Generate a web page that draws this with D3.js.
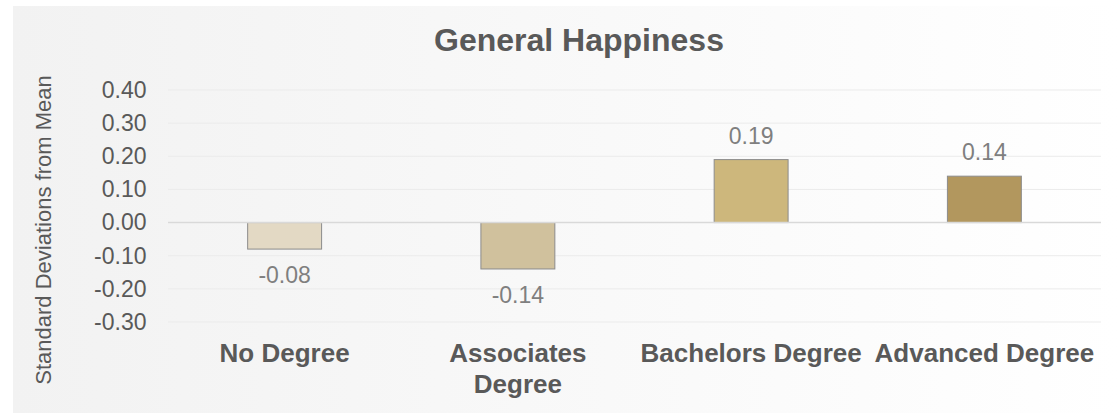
<!DOCTYPE html>
<html>
<head>
<meta charset="utf-8">
<script src="https://cdn.jsdelivr.net/npm/d3@7"></script>
<style>
  body { margin: 0; background: #fff; }
  text { font-family: "Liberation Sans", Arial, sans-serif; }
</style>
</head>
<body>
<svg id="chart" width="1119" height="415"></svg>
<script>
var categories = ["No Degree", "Associates Degree", "Bachelors Degree", "Advanced Degree"];
var values = [-0.08, -0.14, 0.19, 0.14];
var barColors = ["#e3d9c4", "#d0c19d", "#cdb77c", "#b2975e"];
var yTicks = [-0.3, -0.2, -0.1, 0, 0.1, 0.2, 0.3, 0.4];

var svg = d3.select("#chart");

// background panel with soft left-to-right gradient
var grad = svg.append("defs").append("linearGradient")
    .attr("id", "bg").attr("x1", "0%").attr("x2", "100%");
grad.append("stop").attr("offset", "0%").attr("stop-color", "#f2f2f2");
grad.append("stop").attr("offset", "100%").attr("stop-color", "#ffffff");
svg.append("rect")
    .attr("x", 13).attr("y", 6).attr("width", 1106).attr("height", 407)
    .attr("fill", "url(#bg)");

var x = d3.scaleBand()
    .domain(categories)
    .range([168, 1101])
    .paddingInner(0.683)
    .paddingOuter(0.3415);
var y = d3.scaleLinear()
    .domain([-0.3, 0.4])
    .range([322, 90]);

// gridlines
svg.append("g").selectAll("line")
    .data(yTicks.filter(function(d) { return d !== 0; }))
    .join("line")
    .attr("x1", 168).attr("x2", 1101)
    .attr("y1", function(d) { return y(d); })
    .attr("y2", function(d) { return y(d); })
    .attr("stroke", "#ebebeb").attr("stroke-width", 1);

// y axis labels
var fmt = function(d) { return d3.format(".2f")(d).replace("\u2212", "-"); };
var yAxis = d3.axisLeft(y)
    .tickValues(yTicks)
    .tickFormat(fmt)
    .tickSize(0)
    .tickPadding(0);
var ya = svg.append("g")
    .attr("transform", "translate(146.5,0)")
    .call(yAxis);
ya.select(".domain").remove();
ya.selectAll("text")
    .attr("fill", "#595959")
    .style("font-size", "23px")
    .style("font-family", "Liberation Sans, Arial, sans-serif");

// bars
svg.append("g").selectAll("rect")
    .data(values)
    .join("rect")
    .attr("x", function(d, i) { return x(categories[i]); })
    .attr("width", x.bandwidth())
    .attr("y", function(d) { return y(Math.max(0, d)); })
    .attr("height", function(d) { return Math.abs(y(d) - y(0)); })
    .attr("fill", function(d, i) { return barColors[i]; })
    .attr("stroke", "#8c8c8c").attr("stroke-width", 1);

// zero line
svg.append("line")
    .attr("x1", 168).attr("x2", 1101)
    .attr("y1", y(0)).attr("y2", y(0))
    .attr("stroke", "#d9d9d9").attr("stroke-width", 1.5);

// value labels
svg.append("g").selectAll("text")
    .data(values)
    .join("text")
    .attr("x", function(d, i) { return x(categories[i]) + x.bandwidth() / 2; })
    .attr("y", function(d) { return d >= 0 ? y(d) - 16 : y(d) + 34; })
    .attr("text-anchor", "middle")
    .attr("fill", "#7f7f7f")
    .style("font-size", "23px")
    .text(fmt);

// category labels (wrap Associates Degree like the original)
var catLines = [["No Degree"], ["Associates", "Degree"], ["Bachelors Degree"], ["Advanced Degree"]];
var cat = svg.append("g").selectAll("text")
    .data(categories)
    .join("text")
    .attr("x", function(d) { return x(d) + x.bandwidth() / 2; })
    .attr("y", 362)
    .attr("text-anchor", "middle")
    .attr("fill", "#595959")
    .style("font-size", "26px")
    .style("font-weight", "bold");
cat.each(function(d, i) {
    var t = d3.select(this);
    catLines[i].forEach(function(line, j) {
        t.append("tspan")
            .attr("x", x(d) + x.bandwidth() / 2)
            .attr("dy", j === 0 ? 0 : 31)
            .text(line);
    });
});

// title
svg.append("text")
    .attr("x", 579).attr("y", 51)
    .attr("text-anchor", "middle")
    .attr("fill", "#595959")
    .style("font-size", "32px")
    .style("font-weight", "bold")
    .text("General Happiness");

// y axis title
svg.append("text")
    .attr("transform", "translate(51,230)rotate(-90)")
    .attr("text-anchor", "middle")
    .attr("fill", "#595959")
    .style("font-size", "22px")
    .text("Standard Deviations from Mean");
</script>
</body>
</html>
